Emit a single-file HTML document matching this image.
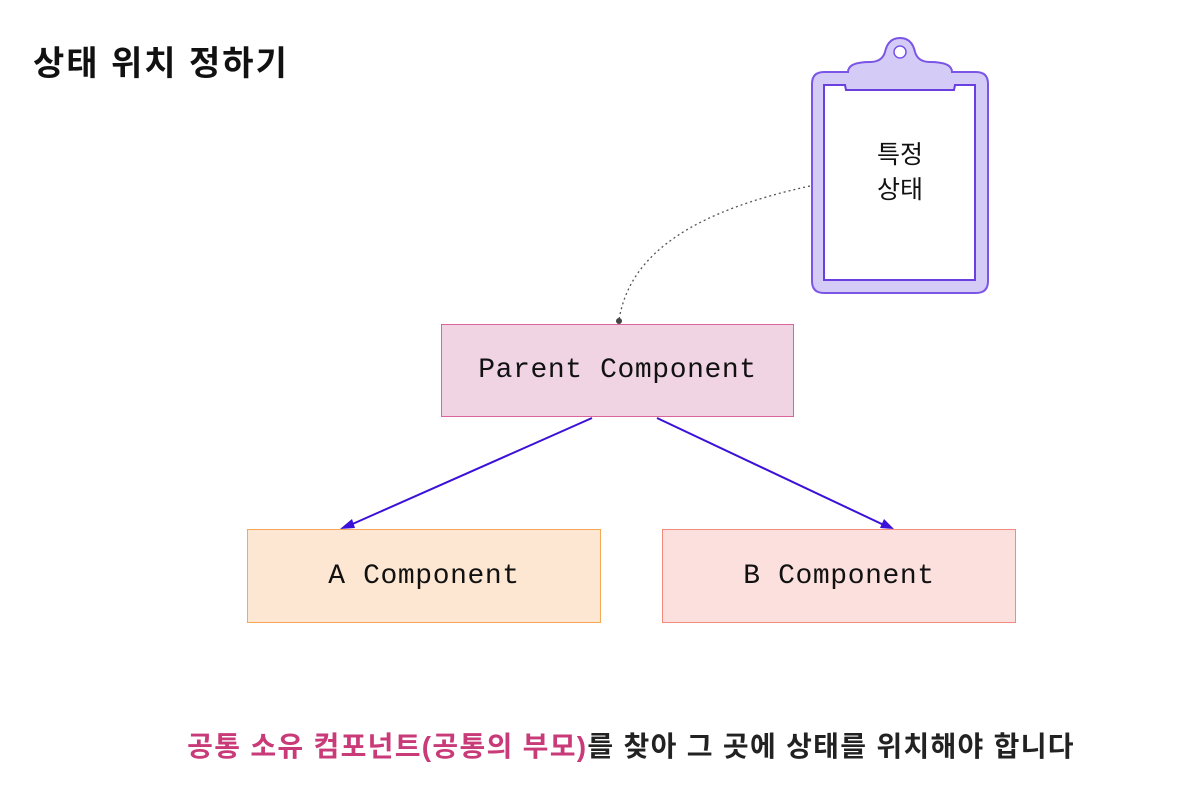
<!DOCTYPE html>
<html><head><meta charset="utf-8"><style>
body{margin:0;width:1192px;height:788px;background:#fff;position:relative;overflow:hidden;font-family:"Liberation Sans","Noto Sans CJK KR",sans-serif}
.t{position:absolute;left:33px;top:36px;font-size:34px;font-weight:bold;color:#111;letter-spacing:2px;white-space:nowrap}
.box{position:absolute;box-sizing:border-box;display:flex;align-items:center;justify-content:center;font-family:"Liberation Mono","DejaVu Sans Mono",monospace;font-size:28px;letter-spacing:0.6px;color:#111}
.bot{position:absolute;left:0;width:1262px;top:725px;text-align:center;font-size:28px;font-weight:bold;color:#222;letter-spacing:1.3px;white-space:nowrap}
</style></head><body>
<div class="t">상태 위치 정하기</div>
<svg width="1192" height="788" style="position:absolute;left:0;top:0">
<path d="M812,84 Q812,72 824,72 L848,72 Q848,62 870,62 Q882,62 885,52 Q888,38 900,38 Q912,38 915,52 Q918,62 930,62 Q952,62 952,72 L976,72 Q988,72 988,84 L988,281 Q988,293 976,293 L824,293 Q812,293 812,281 Z" fill="#d4cbf7" stroke="#7a55e6" stroke-width="2"/>
<circle cx="900" cy="52" r="6" fill="#fff" stroke="#7a55e6" stroke-width="1.5"/>
<path d="M824,85 L845,85 L846,90 L954,90 L955,85 L975,85 L975,280 L824,280 Z" fill="#fff" stroke="#6a3fe0" stroke-width="2"/>
<text x="900" y="163" text-anchor="middle" font-size="25" font-family="Liberation Sans,Noto Sans CJK KR,sans-serif" fill="#111">특정</text>
<text x="900" y="198" text-anchor="middle" font-size="25" font-family="Liberation Sans,Noto Sans CJK KR,sans-serif" fill="#111">상태</text>
<path d="M810,186 C700,210 630,250 619,320" fill="none" stroke="#555" stroke-width="1.3" stroke-dasharray="2,3"/>
<circle cx="619" cy="321" r="3" fill="#444"/>
<line x1="592" y1="418" x2="348" y2="526" stroke="#3b10d8" stroke-width="2"/>
<polygon points="340,529 352,519 355,528" fill="#3b10d8"/>
<line x1="657" y1="418" x2="886" y2="526" stroke="#3b10d8" stroke-width="2"/>
<polygon points="894,529 880,528 884,519" fill="#3b10d8"/>
</svg>
<div class="box" style="left:441px;top:324px;width:353px;height:93px;background:#f0d4e4;border:1.5px solid #d9659c">Parent Component</div>
<div class="box" style="left:247px;top:529px;width:354px;height:94px;background:#fde7d2;border:1.5px solid #f5a75a">A Component</div>
<div class="box" style="left:662px;top:529px;width:354px;height:94px;background:#fbe0dd;border:1.5px solid #f08b7e">B Component</div>
<div class="bot"><span style="color:#c93a78">공통 소유 컴포넌트(공통의 부모)</span>를 찾아 그 곳에 상태를 위치해야 합니다</div>
</body></html>
